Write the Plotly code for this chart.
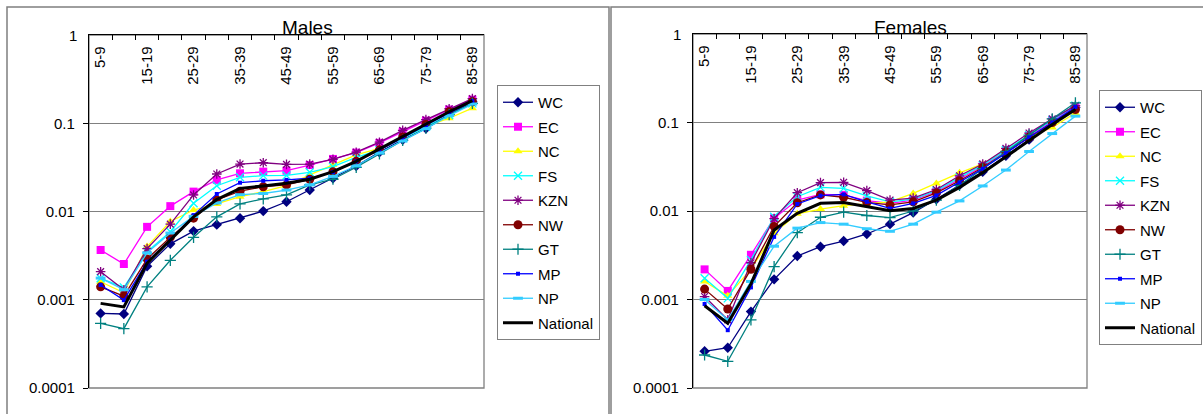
import plotly.graph_objects as go

age_groups = ["5-9", "10-14", "15-19", "20-24", "25-29", "30-34", "35-39", "40-44", "45-49",
              "50-54", "55-59", "60-64", "65-69", "70-74", "75-79", "80-84", "85-89"]
tick_labels = ["5-9", "", "15-19", "", "25-29", "", "35-39", "", "45-49",
               "", "55-59", "", "65-69", "", "75-79", "", "85-89"]
y_tick_vals = [0.0001, 0.001, 0.01, 0.1, 1]
y_tick_text = ["0.0001", "0.001", "0.01", "0.1", "1"]

series_names = ["WC", "EC", "NC", "FS", "KZN", "NW", "GT", "MP", "NP", "National"]

# Males
male_WC = [0.0007, 0.00069, 0.0024, 0.0043, 0.006, 0.0071, 0.0084, 0.0101, 0.0129, 0.0175, 0.0238, 0.0328, 0.047, 0.065, 0.087, 0.125, 0.175]
male_EC = [0.00366, 0.00254, 0.0067, 0.0115, 0.0168, 0.0228, 0.0271, 0.0283, 0.029, 0.0336, 0.0394, 0.0465, 0.060, 0.080, 0.107, 0.143, 0.185]
male_NC = [0.0016, 0.0012, 0.004, 0.0077, 0.0104, 0.0122, 0.0147, 0.0168, 0.0196, 0.026, 0.0337, 0.0437, 0.052, 0.068, 0.092, 0.114, 0.148]
male_FS = [0.00175, 0.00138, 0.0035, 0.0059, 0.0124, 0.0196, 0.0244, 0.0255, 0.0256, 0.0278, 0.0322, 0.041, 0.050, 0.0675, 0.091, 0.124, 0.168]
male_KZN = [0.00208, 0.0013, 0.0038, 0.0072, 0.0154, 0.0266, 0.0345, 0.0357, 0.0342, 0.0345, 0.039, 0.047, 0.061, 0.083, 0.11, 0.146, 0.19]
male_NW = [0.0014, 0.0011, 0.0029, 0.0051, 0.0084, 0.0135, 0.017, 0.0191, 0.020, 0.0232, 0.0283, 0.037, 0.050, 0.070, 0.097, 0.135, 0.175]
male_GT = [0.00054, 0.00047, 0.0014, 0.0028, 0.0051, 0.0087, 0.0122, 0.0139, 0.0154, 0.020, 0.0232, 0.0317, 0.045, 0.064, 0.088, 0.125, 0.168]
male_MP = [0.00147, 0.00099, 0.0027, 0.0048, 0.0091, 0.0158, 0.0212, 0.0223, 0.0228, 0.0238, 0.028, 0.037, 0.050, 0.068, 0.095, 0.130, 0.178]
male_NP = [0.00176, 0.0013, 0.0034, 0.0057, 0.0088, 0.0125, 0.0155, 0.016, 0.0175, 0.020, 0.025, 0.033, 0.046, 0.063, 0.087, 0.122, 0.165]
male_National = [0.00091, 0.00083, 0.0026, 0.0048, 0.0087, 0.0137, 0.0183, 0.0195, 0.0209, 0.0232, 0.0283, 0.037, 0.051, 0.070, 0.097, 0.135, 0.180]

# Females
female_WC = [0.00026, 0.000285, 0.00073, 0.00169, 0.0031, 0.00395, 0.00458, 0.0055, 0.0071, 0.0096, 0.0136, 0.0197, 0.0278, 0.042, 0.064, 0.098, 0.148]
female_EC = [0.00219, 0.00125, 0.0032, 0.0083, 0.0133, 0.0154, 0.0152, 0.0131, 0.0122, 0.0133, 0.0165, 0.0228, 0.032, 0.047, 0.070, 0.105, 0.150]
female_NC = [0.0016, 0.0011, 0.0022, 0.0056, 0.0093, 0.0105, 0.0115, 0.012, 0.0127, 0.0158, 0.0205, 0.027, 0.034, 0.049, 0.068, 0.088, 0.128]
female_FS = [0.00174, 0.00103, 0.0028, 0.0086, 0.0145, 0.0185, 0.018, 0.0148, 0.0127, 0.0136, 0.017, 0.024, 0.033, 0.049, 0.072, 0.107, 0.155]
female_KZN = [0.00108, 0.00059, 0.0026, 0.0082, 0.0161, 0.0209, 0.0211, 0.017, 0.0133, 0.014, 0.0175, 0.025, 0.034, 0.051, 0.076, 0.110, 0.155]
female_NW = [0.00131, 0.00078, 0.0022, 0.0067, 0.0124, 0.0152, 0.0143, 0.0125, 0.0117, 0.0127, 0.016, 0.022, 0.031, 0.046, 0.068, 0.100, 0.140]
female_GT = [0.000236, 0.0002, 0.00059, 0.00235, 0.0057, 0.0085, 0.0097, 0.0089, 0.0084, 0.010, 0.0133, 0.0195, 0.030, 0.047, 0.072, 0.110, 0.167]
female_MP = [0.00089, 0.00045, 0.00137, 0.0051, 0.012, 0.0149, 0.0154, 0.0127, 0.0107, 0.0122, 0.015, 0.021, 0.030, 0.045, 0.068, 0.100, 0.150]
female_NP = [0.001, 0.00059, 0.0016, 0.004, 0.0064, 0.0074, 0.0071, 0.0063, 0.0059, 0.0071, 0.0097, 0.013, 0.0192, 0.029, 0.047, 0.075, 0.118]
female_National = [0.00085, 0.00054, 0.0015, 0.0061, 0.0094, 0.0122, 0.0125, 0.0112, 0.0101, 0.0107, 0.0133, 0.0185, 0.027, 0.041, 0.063, 0.095, 0.140]

male_data = [male_WC, male_EC, male_NC, male_FS, male_KZN, male_NW, male_GT, male_MP, male_NP, male_National]
female_data = [female_WC, female_EC, female_NC, female_FS, female_KZN, female_NW, female_GT, female_MP, female_NP, female_National]

styles = {
    "WC": dict(color="#000080", symbol="diamond", size=8, lw=1.3),
    "EC": dict(color="#FF00FF", symbol="square", size=8, lw=1.3),
    "NC": dict(color="#FFFF00", symbol="triangle-up", size=8, lw=1.3),
    "FS": dict(color="#00FFFF", symbol="x-thin-open", size=8, lw=1.3),
    "KZN": dict(color="#800080", symbol="asterisk-open", size=8, lw=1.3),
    "NW": dict(color="#800000", symbol="circle", size=9, lw=1.3),
    "GT": dict(color="#008080", symbol="cross-thin-open", size=8, lw=1.3),
    "MP": dict(color="#0000FF", symbol="square", size=4, lw=1.3),
    "NP": dict(color="#33CCFF", symbol="line-ew-open", size=7, lw=1.3),
    "National": dict(color="#000000", symbol=None, size=0, lw=3),
}

W, H = 1203, 414
FONT = "Liberation Sans, Arial, sans-serif"

fig = go.Figure()

for data, xa, ya, leg in [(male_data, "x", "y", "legend"), (female_data, "x2", "y2", "legend2")]:
    for name, vals in zip(series_names, data):
        st = styles[name]
        if st["symbol"] is None:
            mode = "lines"
            marker = None
        else:
            mode = "lines+markers"
            marker = dict(symbol=st["symbol"], size=st["size"], color=st["color"],
                          line=dict(color=st["color"],
                                    width=3 if name == "NP" else (1.3 if "open" in st["symbol"] else 0)))
        fig.add_trace(go.Scatter(
            x=age_groups, y=vals, name=name, mode=mode,
            line=dict(color=st["color"], width=st["lw"]),
            marker=marker, xaxis=xa, yaxis=ya, legend=leg,
            legendgroup=f"{leg}_{name}", showlegend=True,
        ))

def px_x(v):
    return v / W

def px_y(v):
    return 1 - v / H

xaxis_common = dict(
    type="category", categoryorder="array", categoryarray=age_groups,
    side="top", showline=True, linecolor="black", linewidth=1.3,
    tickmode="array", tickvals=age_groups, ticktext=tick_labels,
    tickangle=-90, ticklabelposition="inside", ticks="inside", ticklen=5,
    tickcolor="black", tickson="boundaries", showgrid=False, zeroline=False,
    tickfont=dict(family=FONT, size=15, color="black"), ticklabelstandoff=-2,
    range=[-0.5, 16.5],
)
yaxis_common = dict(
    type="log", range=[-4, 0], tickmode="array", tickvals=y_tick_vals, ticktext=y_tick_text,
    showline=True, linecolor="black", linewidth=1.3, ticks="outside", ticklen=5,
    tickcolor="black", showgrid=True, gridcolor="#808080", gridwidth=1, zeroline=False,
    tickfont=dict(family=FONT, size=15, color="black"), ticklabelstandoff=5,
)

m_left, m_right, m_top, m_bot = 89, 484, 35, 388
f_left, f_right, f_top, f_bot = 693, 1087, 34, 388

legend_common = dict(xanchor="left", yanchor="top", bordercolor="#808080", borderwidth=1,
                     bgcolor="white", font=dict(family=FONT, size=15), itemwidth=30,
                     tracegroupgap=2, itemclick=False)

fig.update_layout(
    width=W, height=H,
    margin=dict(l=0, r=0, t=0, b=0, autoexpand=False),
    paper_bgcolor="white", plot_bgcolor="white",
    font=dict(family=FONT, size=15, color="black"),
    xaxis=dict(xaxis_common, domain=[px_x(m_left), px_x(m_right)], anchor="y"),
    yaxis=dict(yaxis_common, domain=[px_y(m_bot), px_y(m_top)], anchor="x"),
    xaxis2=dict(xaxis_common, domain=[px_x(f_left), px_x(f_right)], anchor="y2"),
    yaxis2=dict(yaxis_common, domain=[px_y(f_bot), px_y(f_top)], anchor="x2"),
    legend=dict(legend_common, x=px_x(497), y=px_y(85)),
    legend2=dict(legend_common, x=px_x(1099), y=px_y(90)),
    showlegend=True,
    hovermode=False,
)

shapes = []
# outer chart frames
shapes.append(dict(type="rect", xref="paper", yref="paper", x0=px_x(7), x1=px_x(609),
                   y0=px_y(430), y1=px_y(7), line=dict(color="#7f7f7f", width=1.5), layer="below"))
shapes.append(dict(type="rect", xref="paper", yref="paper", x0=px_x(611), x1=px_x(1230),
                   y0=px_y(430), y1=px_y(7), line=dict(color="#7f7f7f", width=1.5), layer="below"))
# plot-area borders (gray right/bottom)
for (l, r, t, b) in [(m_left, m_right, m_top, m_bot), (f_left, f_right, f_top, f_bot)]:
    shapes.append(dict(type="rect", xref="paper", yref="paper", x0=px_x(l), x1=px_x(r),
                       y0=px_y(b), y1=px_y(t), line=dict(color="#808080", width=1.3), layer="below"))
fig.update_layout(shapes=shapes)

# top "1" tick labels (plotly hides them next to the inside top category labels)
for xa_name, ya_name in [("x", "y"), ("x2", "y2")]:
    fig.add_annotation(text=y_tick_text[-1], xref=f"{xa_name} domain", yref=ya_name,
                       x=0, y=0, xanchor="right", yanchor="middle", xshift=-10,
                       showarrow=False, font=dict(family=FONT, size=15, color="black"))

fig.add_annotation(text="Males", xref="paper", yref="paper", x=px_x(307), y=px_y(28),
                   xanchor="center", yanchor="middle", showarrow=False,
                   font=dict(family=FONT, size=19, color="black"))
fig.add_annotation(text="Females", xref="paper", yref="paper", x=px_x(910), y=px_y(28),
                   xanchor="center", yanchor="middle", showarrow=False,
                   font=dict(family=FONT, size=19, color="black"))

fig.write_html("out.html", config={"displayModeBar": False},
               post_script="document.body.style.margin='0';document.body.style.padding='0';")
